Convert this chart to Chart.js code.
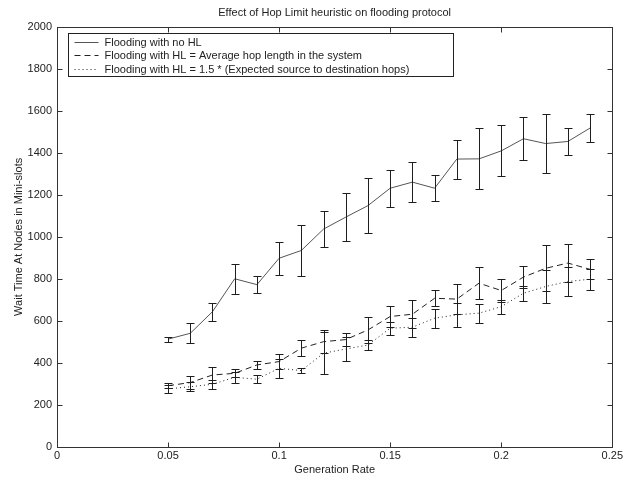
<!DOCTYPE html>
<html>
<head>
<meta charset="utf-8">
<script src="https://cdn.jsdelivr.net/npm/chart.js@4"></script>
<style>
    html, body { margin: 0; padding: 0; background: #fff; }
</style>
</head>
<body>
<canvas id="hopChart" width="626" height="480"></canvas>
<script>
// generation rates (x) and the three series with their error half-widths
const rates = [0.05, 0.06, 0.07, 0.08, 0.09, 0.10, 0.11, 0.12, 0.13, 0.14,
               0.15, 0.16, 0.17, 0.18, 0.19, 0.20, 0.21, 0.22, 0.23, 0.24];

const noHL = [512, 540, 643, 800, 772, 898, 935, 1037, 1094, 1149,
              1232, 1261, 1232, 1371, 1372, 1410, 1468, 1445, 1455, 1519];
const noHLErr = [12, 48, 42, 71, 40, 79, 121, 87, 115, 132,
                 88, 95, 61, 93, 146, 122, 102, 139, 65, 65];

const avgHL = [290, 305, 341, 349, 389, 405, 469, 500, 510, 556,
               620, 631, 707, 703, 779, 744, 808, 850, 875, 845];
const avgHLErr = [12, 30, 40, 19, 21, 34, 38, 55, 30, 62,
                  52, 68, 38, 70, 77, 55, 52, 110, 90, 48];

const expHL = [275, 285, 297, 330, 321, 373, 362, 445, 465, 484,
               564, 569, 612, 628, 636, 667, 731, 763, 787, 798];
const expHLErr = [18, 22, 22, 26, 20, 46, 12, 100, 55, 25,
                  31, 45, 46, 58, 45, 34, 36, 80, 70, 50];

const xTicks = [0, 0.05, 0.1, 0.15, 0.2, 0.25];
const yTicks = [0, 200, 400, 600, 800, 1000, 1200, 1400, 1600, 1800, 2000];

const seriesLabels = [
    "Flooding with no HL",
    "Flooding with HL = Average hop length in the system",
    "Flooding with HL = 1.5 * (Expected source to destination hops)",
];

const FONT = "'Liberation Sans', Arial, Helvetica, sans-serif";

function points(values) {
    return rates.map((r, i) => ({ x: r, y: values[i] }));
}

// vertical error bars with caps, placed through the chart scales
const errorBars = {
    id: "errorBars",
    afterDatasetsDraw(chart) {
        const { ctx, scales: { x, y } } = chart;
        ctx.save();
        ctx.strokeStyle = "#1e1e1e";
        ctx.lineWidth = 1;
        ctx.setLineDash([]);
        chart.data.datasets.forEach((ds) => {
            ds.data.forEach((pt, j) => {
                const e = ds.errors[j];
                const px = Math.round(x.getPixelForValue(pt.x)) + 0.5;
                const top = Math.round(y.getPixelForValue(pt.y + e)) + 0.5;
                const bot = Math.round(y.getPixelForValue(pt.y - e)) + 0.5;
                ctx.beginPath();
                ctx.moveTo(px, top);
                ctx.lineTo(px, bot);
                ctx.moveTo(px - 4, top);
                ctx.lineTo(px + 4, top);
                ctx.moveTo(px - 4, bot);
                ctx.lineTo(px + 4, bot);
                ctx.stroke();
            });
        });
        ctx.restore();
    },
};

// box around the plot with inward ticks on all four sides, plus legend box
const frameAndLegend = {
    id: "frameAndLegend",
    afterDraw(chart) {
        const { ctx, chartArea: a, scales: { x, y } } = chart;
        ctx.save();
        ctx.strokeStyle = "#333";
        ctx.lineWidth = 1;
        ctx.setLineDash([]);
        const L = Math.round(a.left) + 0.5, R = Math.round(a.right) + 0.5;
        const T = Math.round(a.top) + 0.5, B = Math.round(a.bottom) + 0.5;
        ctx.strokeRect(L, T, R - L, B - T);
        ctx.beginPath();
        xTicks.forEach((v) => {
            const px = Math.round(x.getPixelForValue(v)) + 0.5;
            ctx.moveTo(px, B); ctx.lineTo(px, B - 5);
            ctx.moveTo(px, T); ctx.lineTo(px, T + 5);
        });
        yTicks.forEach((v) => {
            const py = Math.round(y.getPixelForValue(v)) + 0.5;
            ctx.moveTo(L, py); ctx.lineTo(L + 5, py);
            ctx.moveTo(R, py); ctx.lineTo(R - 5, py);
        });
        ctx.stroke();

        // legend
        const lx = L + 11, ly = T + 6, lw = 385, lh = 43;
        ctx.fillStyle = "#fff";
        ctx.fillRect(lx, ly, lw, lh);
        ctx.strokeStyle = "#222";
        ctx.strokeRect(lx, ly, lw, lh);
        ctx.font = "11px " + FONT;
        ctx.textBaseline = "middle";
        chart.data.datasets.forEach((ds, i) => {
            const rowY = Math.round(ly + 8 + i * 13.5) + 0.5;
            ctx.strokeStyle = ds.borderColor;
            ctx.setLineDash(ds.borderDash || []);
            ctx.beginPath();
            ctx.moveTo(lx + 6, rowY);
            ctx.lineTo(lx + 30, rowY);
            ctx.stroke();
            ctx.fillStyle = "#222";
            ctx.fillText(ds.label, lx + 36, rowY);
        });
        ctx.restore();
    },
};

new Chart(document.getElementById("hopChart").getContext("2d"), {
    type: "line",
    data: {
        datasets: [
            {
                label: seriesLabels[0],
                data: points(noHL),
                errors: noHLErr,
                borderColor: "#555",
                borderWidth: 1,
                pointRadius: 0,
                tension: 0,
            },
            {
                label: seriesLabels[1],
                data: points(avgHL),
                errors: avgHLErr,
                borderColor: "#222",
                borderWidth: 1,
                borderDash: [6, 4],
                pointRadius: 0,
                tension: 0,
            },
            {
                label: seriesLabels[2],
                data: points(expHL),
                errors: expHLErr,
                borderColor: "#222",
                borderWidth: 1,
                borderDash: [1, 3],
                pointRadius: 0,
                tension: 0,
            },
        ],
    },
    options: {
        responsive: false,
        animation: false,
        layout: { padding: { left: 0, right: 11, top: 0, bottom: 0 } },
        plugins: {
            legend: { display: false },
            tooltip: { enabled: false },
            title: {
                display: true,
                fullSize: false,
                text: "Effect of Hop Limit heuristic on flooding protocol",
                color: "#222",
                font: { family: FONT, size: 11, weight: "normal" },
                padding: { top: 6, bottom: 8 },
            },
        },
        scales: {
            x: {
                type: "linear",
                min: 0,
                max: 0.25,
                afterBuildTicks: (s) => { s.ticks = xTicks.map((v) => ({ value: v })); },
                afterFit: (s) => { s.height = 33.5; },
                grid: { display: false, drawTicks: false },
                border: { display: false },
                ticks: {
                    color: "#222",
                    font: { family: FONT, size: 11 },
                    padding: 3,
                    maxRotation: 0,
                    callback: (v) => String(+v.toFixed(2)),
                },
                title: {
                    display: true,
                    text: "Generation Rate",
                    color: "#222",
                    font: { family: FONT, size: 11 },
                    padding: { top: 0, bottom: 3 },
                },
            },
            y: {
                min: 0,
                max: 2000,
                afterBuildTicks: (s) => { s.ticks = yTicks.map((v) => ({ value: v })); },
                afterFit: (s) => { s.width = 57; },
                grid: { display: false, drawTicks: false },
                border: { display: false },
                ticks: {
                    color: "#222",
                    font: { family: FONT, size: 11 },
                    padding: 5,
                    callback: (v) => String(v),
                },
                title: {
                    display: true,
                    text: "Wait Time At Nodes in Mini-slots",
                    color: "#222",
                    font: { family: FONT, size: 11 },
                    padding: { top: 12, bottom: 0 },
                },
            },
        },
    },
    plugins: [errorBars, frameAndLegend],
});
</script>
</body>
</html>
